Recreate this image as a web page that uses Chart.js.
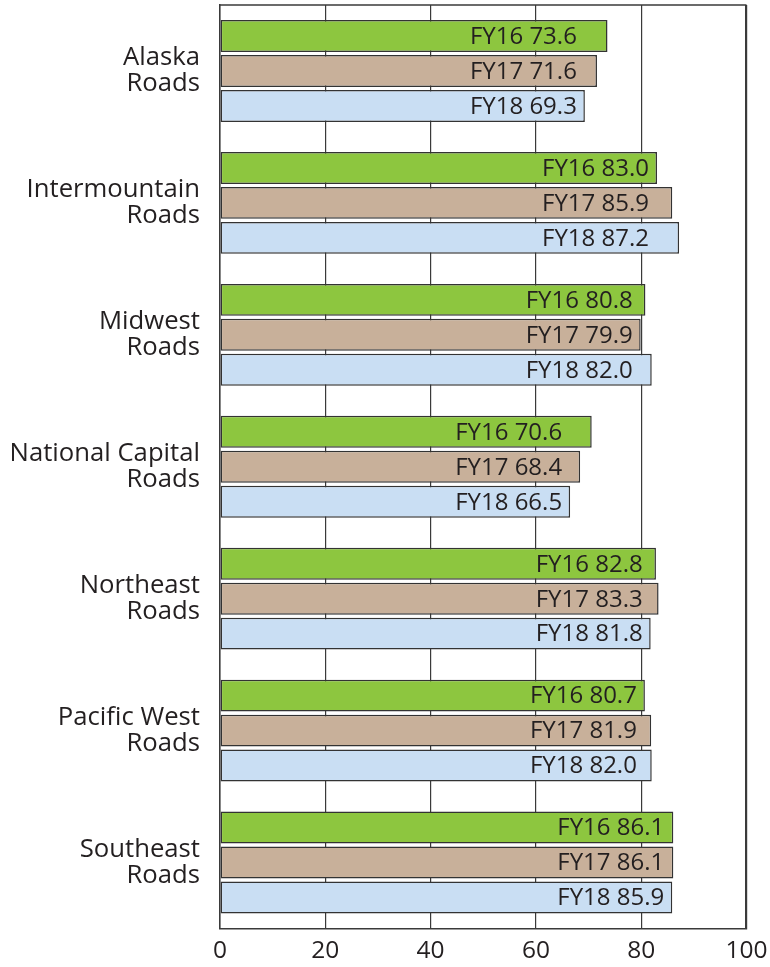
<!DOCTYPE html>
<html>
<head>
<meta charset="utf-8">
<script src="https://cdn.jsdelivr.net/npm/chart.js@4.4.1/dist/chart.umd.min.js"></script>
<style>
  html, body { margin: 0; padding: 0; background: #ffffff; }
  canvas { display: block; }
</style>
</head>
<body>
<canvas id="c" width="770" height="967"></canvas>
<script>
const categories = [
  ['Alaska', 'Roads'],
  ['Intermountain', 'Roads'],
  ['Midwest', 'Roads'],
  ['National Capital', 'Roads'],
  ['Northeast', 'Roads'],
  ['Pacific West', 'Roads'],
  ['Southeast', 'Roads']
];
const seriesNames = ['FY16', 'FY17', 'FY18'];
const fy16 = [73.6, 83.0, 80.8, 70.6, 82.8, 80.7, 86.1];
const fy17 = [71.6, 85.9, 79.9, 68.4, 83.3, 81.9, 86.1];
const fy18 = [69.3, 87.2, 82.0, 66.5, 81.8, 82.0, 85.9];
const xTicks = [0, 20, 40, 60, 80, 100];

const colors = ['#8dc63f', '#c8b09a', '#c9def3'];
const textColor = '#231f20';
const lineColor = '#3a3a3a';

const seriesValues = [fy16, fy17, fy18];

const barLabelPlugin = {
  id: 'barLabels',
  afterDatasetsDraw(chart) {
    const ctx = chart.ctx;
    const xs = chart.scales.x;
    ctx.save();
    ctx.font = '24px "Open Sans"';
    ctx.fillStyle = textColor;
    ctx.textAlign = 'right';
    ctx.textBaseline = 'middle';
    for (let i = 0; i < categories.length; i++) {
      const minVal = Math.min(...seriesValues.map(s => s[i]));
      const tx = xs.getPixelForValue(minVal) - 8;
      seriesValues.forEach((s, d) => {
        const bar = chart.getDatasetMeta(d).data[i];
        ctx.fillText(seriesNames[d] + ' ' + s[i].toFixed(1), tx, bar.y + 1);
      });
    }
    ctx.restore();
  }
};

const framePlugin = {
  id: 'frame',
  afterDraw(chart) {
    const a = chart.chartArea;
    const ctx = chart.ctx;
    ctx.save();
    ctx.strokeStyle = lineColor;
    ctx.lineWidth = 1.5;
    ctx.beginPath();
    ctx.moveTo(a.left, a.top);
    ctx.lineTo(a.right, a.top);
    ctx.stroke();
    ctx.restore();
  }
};

new Chart(document.getElementById('c'), {
  type: 'bar',
  data: {
    labels: categories,
    datasets: seriesNames.map((n, d) => ({
      label: n,
      data: seriesValues[d],
      backgroundColor: colors[d],
      borderColor: '#333333',
      borderWidth: 1.5,
      borderSkipped: false,
      categoryPercentage: 0.795,
      barPercentage: 0.914
    }))
  },
  options: {
    indexAxis: 'y',
    responsive: false,
    animation: false,
    devicePixelRatio: 1,
    layout: { padding: { top: 5, right: 23.5, bottom: 0, left: 0 } },
    plugins: {
      legend: { display: false },
      tooltip: { enabled: false }
    },
    scales: {
      x: {
        type: 'linear',
        min: 0,
        max: 100,
        afterBuildTicks(scale) { scale.ticks = xTicks.map(v => ({ value: v })); },
        afterFit(scale) {
          scale.height = 38.5;
          scale.paddingLeft = 0; scale.paddingRight = 0;
          scale.paddingTop = 0; scale.paddingBottom = 0;
        },
        ticks: {
          color: textColor,
          font: { family: 'Open Sans', size: 24.5 },
          padding: 8,
          maxRotation: 0
        },
        grid: {
          color: lineColor,
          lineWidth: (c) => (c.tick && c.tick.value === 100 ? 2.2 : 1.2),
          drawTicks: false
        },
        border: { display: true, color: lineColor, width: 1.5 }
      },
      y: {
        type: 'category',
        offset: true,
        afterFit(scale) {
          scale.width = 220;
          scale.paddingLeft = 0; scale.paddingRight = 0;
          scale.paddingTop = 0; scale.paddingBottom = 0;
        },
        ticks: {
          color: textColor,
          font: { family: 'Open Sans', size: 25.7, lineHeight: 1.0 },
          padding: 20
        },
        grid: { display: false, drawTicks: false },
        border: { display: true, color: lineColor, width: 1.5 }
      }
    }
  },
  plugins: [barLabelPlugin, framePlugin]
});
</script>
</body>
</html>
